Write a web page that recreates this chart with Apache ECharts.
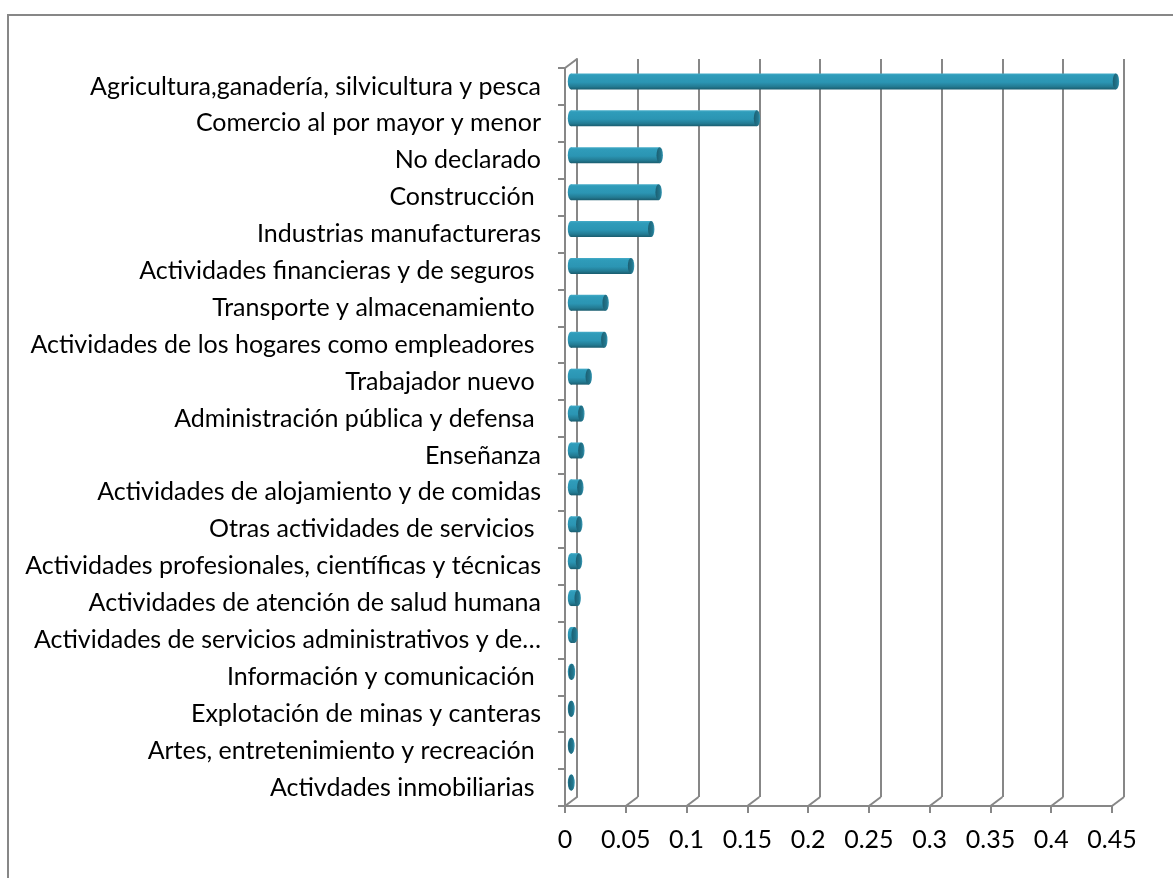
<!DOCTYPE html>
<html>
<head>
<meta charset="utf-8">
<title>Actividad económica</title>
<script src="https://cdn.jsdelivr.net/npm/echarts@6/dist/echarts.min.js"></script>
<style>
  html, body { margin: 0; padding: 0; background: #fff; }
  #chart { width: 1173px; height: 878px; }
</style>
</head>
<body>
<div id="chart"></div>
<script>
const categories = [
  "Agricultura,ganadería, silvicultura y pesca",
  "Comercio al por mayor y menor",
  "No declarado",
  "Construcción ",
  "Industrias manufactureras",
  "Actividades financieras y de seguros ",
  "Transporte y almacenamiento ",
  "Actividades de los hogares como empleadores ",
  "Trabajador nuevo ",
  "Administración pública y defensa ",
  "Enseñanza",
  "Actividades de alojamiento y de comidas",
  "Otras actividades de servicios ",
  "Actividades profesionales, científicas y técnicas",
  "Actividades de atención de salud humana",
  "Actividades de servicios administrativos y de…",
  "Información y comunicación ",
  "Explotación de minas y canteras",
  "Artes, entretenimiento y recreación ",
  "Activdades inmobiliarias "
];
const values = [
  0.4483, 0.153, 0.073, 0.0721, 0.066, 0.0494, 0.0285, 0.0274, 0.0146, 0.0085,
  0.0085, 0.0077, 0.0068, 0.0066, 0.0055, 0.003, 0.0008, 0.0004, 0.0003, 0.0004
];
const xTicks = [0, 0.05, 0.1, 0.15, 0.2, 0.25, 0.3, 0.35, 0.4, 0.45];

const lineColor = "#878787";
const depthX = 12, depthY = -9; // back wall offset of the 3D box

const chart = echarts.init(document.getElementById("chart"));

// cylinder-like bar drawn at half depth
function renderBar(params, api) {
  const idx = api.value(1);
  const p0 = api.coord([0, idx]);
  const p1 = api.coord([api.value(0), idx]);
  const dx = depthX / 2, dy = depthY / 2 - 0.5;
  const x0 = p0[0] + dx, x1 = p1[0] + dx, cy = p0[1] + dy;
  const h = 16;
  const body = new echarts.graphic.LinearGradient(0, 0, 0, 1, [
    { offset: 0, color: "#45acc8" },
    { offset: 0.12, color: "#2f9cba" },
    { offset: 0.55, color: "#2b95b3" },
    { offset: 0.82, color: "#237b93" },
    { offset: 1, color: "#1a5c6e" }
  ]);
  const cap = new echarts.graphic.LinearGradient(0, 0, 1, 0, [
    { offset: 0, color: "#1b5f72" },
    { offset: 0.7, color: "#23778e" },
    { offset: 1, color: "#3a9cb8" }
  ]);
  return {
    type: "group",
    children: [
      { type: "rect", shape: { x: x0, y: cy - h / 2, width: Math.max(x1 - x0, 0), height: h }, style: { fill: body } },
      { type: "circle", x: x0, y: cy, scaleX: 0.4, shape: { cx: 0, cy: 0, r: h / 2 }, style: { fill: body } },
      { type: "circle", x: x1, y: cy, scaleX: 0.4, shape: { cx: 0, cy: 0, r: h / 2 }, style: { fill: cap } }
    ]
  };
}

// floor diagonals from the front ticks to the back wall
function renderFloor(params, api) {
  const x = api.coord([api.value(0), 0])[0];
  const yb = params.coordSys.y + params.coordSys.height;
  return {
    type: "line",
    shape: { x1: x, y1: yb, x2: x + depthX, y2: yb + depthY },
    style: { stroke: lineColor, lineWidth: 2 }
  };
}

// left wall top diagonal
function renderWallTop(params, api) {
  const x = api.coord([0, 0])[0];
  const yt = params.coordSys.y;
  return {
    type: "line",
    shape: { x1: x, y1: yt, x2: x + depthX, y2: yt + depthY },
    style: { stroke: lineColor, lineWidth: 2 }
  };
}

const option = {
  backgroundColor: "#fff",
  animation: false,
  textStyle: { fontFamily: "Lato" },
  graphic: [
    {
      type: "rect",
      shape: { x: 8, y: 15, width: 1200, height: 900 },
      style: { fill: "none", stroke: lineColor, lineWidth: 2 },
      z: 0
    }
  ],
  grid: [
    { left: 565, right: 61, top: 68, bottom: 72 },
    { left: 565 + depthX, right: 61 - depthX, top: 68 + depthY, bottom: 72 - depthY }
  ],
  xAxis: [
    {
      gridIndex: 0,
      type: "value",
      min: 0,
      max: 0.45,
      interval: 0.05,
      axisLine: { show: true, lineStyle: { color: lineColor, width: 2 } },
      axisTick: { show: true, length: 7, lineStyle: { color: lineColor, width: 2 } },
      axisLabel: { fontSize: 25, color: "#000", margin: 21, fontFamily: "Lato" },
      splitLine: { show: false }
    },
    {
      gridIndex: 1,
      type: "value",
      min: 0,
      max: 0.45,
      interval: 0.05,
      axisLine: { show: false },
      axisTick: { show: false },
      axisLabel: { show: false },
      splitLine: { show: true, lineStyle: { color: lineColor, width: 2 } }
    }
  ],
  yAxis: [
    {
      gridIndex: 0,
      type: "category",
      inverse: true,
      data: categories,
      axisLine: { show: true, lineStyle: { color: lineColor, width: 2 } },
      axisTick: { show: true, length: 7, lineStyle: { color: lineColor, width: 2 } },
      axisLabel: { fontSize: 25, color: "#000", margin: 24, fontFamily: "Lato" },
      splitLine: { show: false }
    },
    {
      gridIndex: 1,
      type: "category",
      inverse: true,
      data: categories,
      axisLine: { show: true, lineStyle: { color: lineColor, width: 2 } },
      axisTick: { show: false },
      axisLabel: { show: false },
      splitLine: { show: false }
    }
  ],
  series: [
    {
      type: "custom",
      xAxisIndex: 0,
      yAxisIndex: 0,
      clip: false,
      silent: true,
      renderItem: renderFloor,
      encode: { x: 0, y: 1 },
      data: xTicks.map((t) => [t, 0]),
      z: 1
    },
    {
      type: "custom",
      xAxisIndex: 0,
      yAxisIndex: 0,
      clip: false,
      silent: true,
      renderItem: renderWallTop,
      encode: { x: 0, y: 1 },
      data: [[0, 0]],
      z: 1
    },
    {
      type: "custom",
      xAxisIndex: 0,
      yAxisIndex: 0,
      clip: false,
      renderItem: renderBar,
      encode: { x: 0, y: 1 },
      data: values.map((v, i) => [v, i]),
      z: 5
    }
  ]
};

chart.setOption(option);
</script>
</body>
</html>
